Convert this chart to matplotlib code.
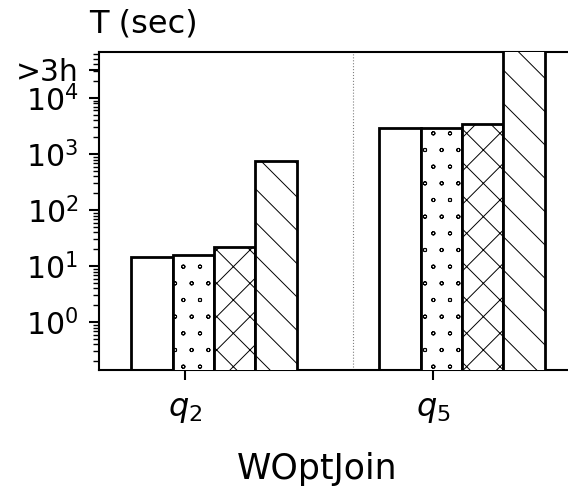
import numpy as np
import matplotlib
matplotlib.use('Agg')
import matplotlib.pyplot as plt
import matplotlib.hatch

# data (seconds, log scale)
queries = ['$q_2$', '$q_5$']
t_plain = [14.5, 2900]
t_dots = [15.5, 2950]
t_cross = [22, 3500]
t_back = [750, 1e5]   # q5 last one ran out (>3h), clipped at the top

series = [t_plain, t_dots, t_cross, t_back]
hatches = ['', '.', 'x', '\\']

ytick_vals = [1, 10, 100, 1000, 10000, 32000]
ytick_labels = ['$10^{0}$', '$10^{1}$', '$10^{2}$', '$10^{3}$', '$10^{4}$', '>3h']

plt.rcParams['hatch.linewidth'] = 0.7
# small hollow rings instead of filled dots
matplotlib.hatch.SmallFilledCircles.filled = False

fig = plt.figure(figsize=(5.68, 4.9), dpi=100)
ax = fig.add_axes([99 / 568., 1 - 370 / 490., 496 / 568., 317.5 / 490.])

x = np.arange(len(queries))
w = 1 / 6.
for i, vals in enumerate(series):
    ax.bar(x + (i - 1.3) * w, vals, w, align='edge', color='white',
           edgecolor='black', linewidth=2, hatch=hatches[i], zorder=2 + i)

ax.axvline(0.677, color='gray', linestyle=':', linewidth=0.8, zorder=1)

ax.set_yscale('log')
ax.set_ylim(0.14, 6.5e4)
ax.set_xlim(-0.347, 1.653)
ax.set_yticks(ytick_vals)
ax.set_yticklabels(ytick_labels)
ax.set_xticks(x)
ax.set_xticklabels(queries)

ax.tick_params(axis='y', which='major', labelsize=21.5, length=7, width=1.5, pad=8)
ax.tick_params(axis='x', which='major', labelsize=23, length=7, width=1.5, pad=10)
ax.tick_params(axis='y', which='minor', length=4, width=1)
for sp in ax.spines.values():
    sp.set_linewidth(1.5)

ax.set_xlabel('WOptJoin', fontsize=25, labelpad=20)
ax.xaxis.label.set_x((317 - 99) / 496.)
ax.text(-0.02, 1.04, 'T (sec)', transform=ax.transAxes, fontsize=23,
        ha='left', va='bottom')

fig.savefig('out.png', dpi=100)
